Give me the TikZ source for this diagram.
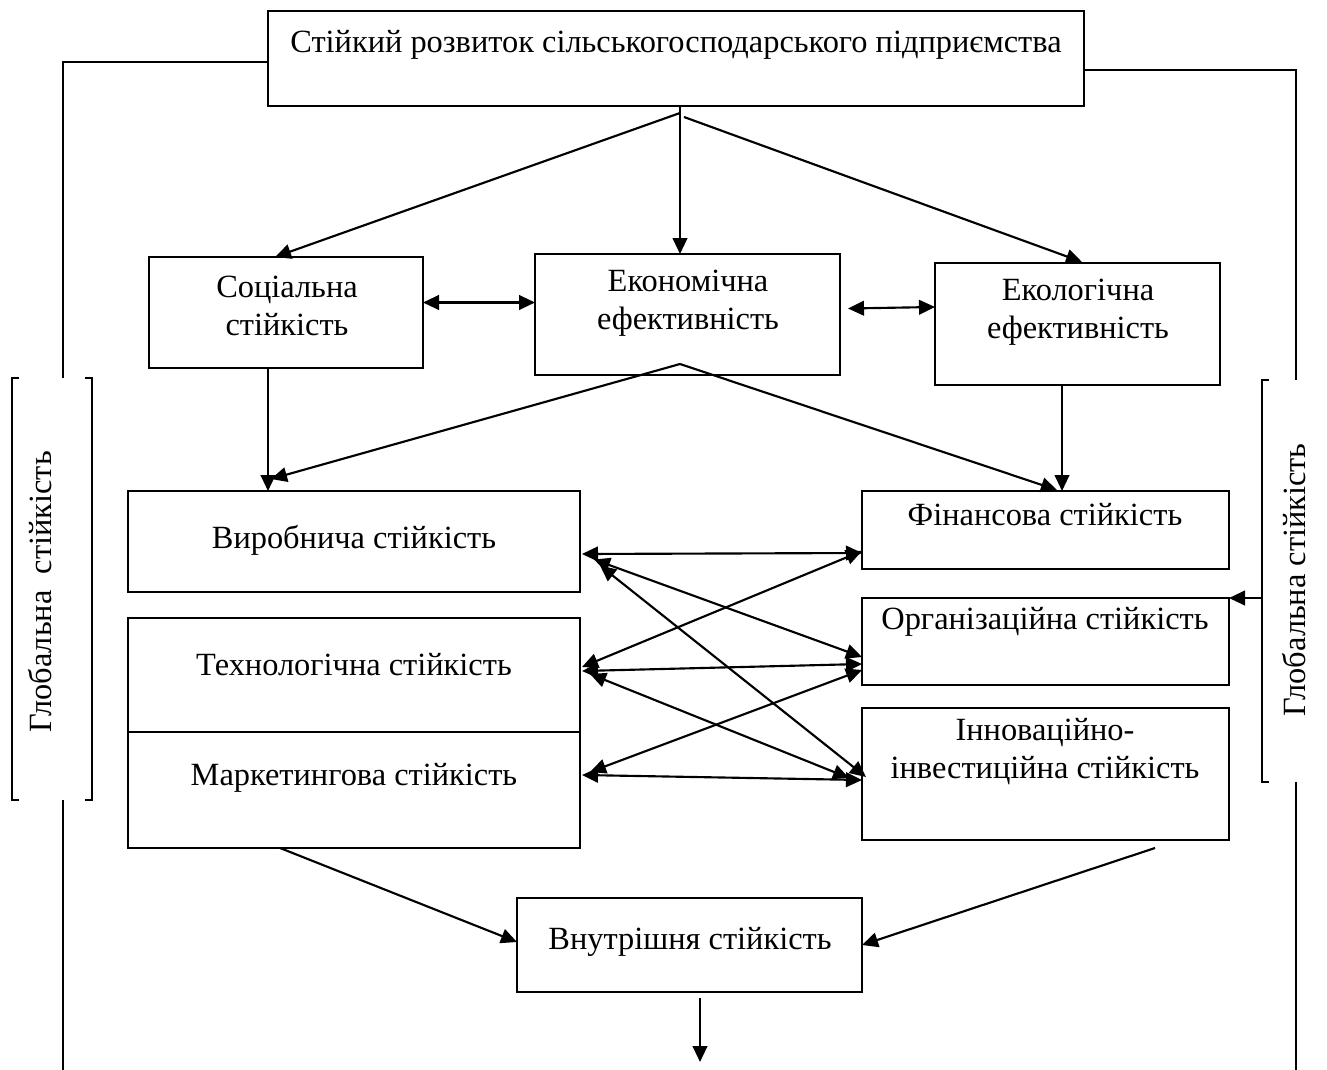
\documentclass[tikz,border=0pt]{standalone}
\usepackage{fontspec}
\setmainfont{Liberation Serif}
\usetikzlibrary{arrows.meta,calc,fit}
\begin{document}
\begin{tikzpicture}[x=0.75pt,y=-0.75pt,
  box/.style={draw,line width=1.7pt,inner sep=0pt,outer sep=0pt},
  txt/.style={inner sep=0pt,align=center,font=\fontsize{24.3}{28.5}\selectfont},
  ln/.style={line width=1.6pt},
  arr/.style={ln,-{Triangle[length=12pt,width=11pt]}},
  darr/.style={ln,{Triangle[length=12pt,width=11pt]}-{Triangle[length=12pt,width=11pt]}}
]
\useasboundingbox (0,0) rectangle (1327,1070);
\fill[white] (0,0) rectangle (1327,1070);

% boxes
\node[box,fit={(268,11) (1084,106)}] (top) {};
\node[box,fit={(149,257) (423,368)}] (soc) {};
\node[box,fit={(535,254) (840,375)}] (eco) {};
\node[box,fit={(935,263) (1220,385)}] (ecl) {};
\node[box,fit={(128,491) (580,592)}] (vyr) {};
\node[box,fit={(128,618) (580,732)}] (tech) {};
\node[box,fit={(128,732) (580,848)}] (mark) {};
\node[box,fit={(862,491) (1229,569)}] (fin) {};
\node[box,fit={(862,598) (1229,685)}] (org) {};
\node[box,fit={(862,708) (1229,840)}] (inn) {};
\node[box,fit={(517,898) (862,992)}] (vnu) {};
\node[inner sep=0pt,outer sep=0pt,fit={(12,378) (92,800)}] (glL) {};
\node[inner sep=0pt,outer sep=0pt,fit={(1262,380) (1340,782)}] (glR) {};

% bracket sides of the global boxes
\draw[ln] ([xshift=5pt]glL.north west) -- (glL.north west) -- (glL.south west) -- ([xshift=5pt]glL.south west);
\draw[ln] ([xshift=-5pt]glL.north east) -- (glL.north east) -- (glL.south east) -- ([xshift=-5pt]glL.south east);
\draw[ln] ([xshift=5pt]glR.north west) -- (glR.north west) -- (glR.south west) -- ([xshift=5pt]glR.south west);

% texts
\node[txt] (toptxt) at (676,45) {Стійкий розвиток сільськогосподарського підприємства};
\node[txt] (soctxt) at (287,306) {Соціальна\\стійкість};
\node[txt] (ecotxt) at (688,303) {Економічна\\ефективність};
\node[txt] (ecltxt) at (1078,312) {Екологічна\\ефективність};
\node[txt] (vyrtxt) at (354,540) {Виробнича стійкість};
\node[txt] (techtxt) at (354,665) {Технологічна стійкість};
\node[txt] (marktxt) at (354,778) {Маркетингова стійкість};
\node[txt] (fintxt) at (1045,515) {Фінансова стійкість};
\node[txt] (orgtxt) at (1045,622) {Організаційна стійкість};
\node[txt] (inntxt) at (1045,752) {Інноваційно-\\інвестиційна стійкість};
\node[txt] (vnutxt) at (690,942) {Внутрішня стійкість};
\node[txt,rotate=90] (glLtxt) at (40,592) {Глобальна\ \ стійкість};
\node[txt,rotate=90] (glRtxt) at (1294,580) {Глобальна стійкість};

% connectors from the top box
\draw[arr] ($(top.south)+(4,7)$) -- ($(soc.north)+(-11,0)$);
\draw[arr] ($(top.south)+(4,0)$) -- ($(eco.north)+(-7.5,0)$);
\draw[arr] ($(top.south)+(8,11)$) -- ($(ecl.north)+(4.5,-1)$);
\draw[ln] (top.west |- 0,62) -- (63,62) -- (glL.north -| 63,0);
\draw[ln] (top.east |- 0,70) -- (1296,70) -- (glR.north -| 1296,0);
\draw[ln] (glL.south -| 63,0) -- (63,1070);
\draw[ln] (glR.south -| 1296,0) -- (1296,1070);
\draw[arr] (glR.west |- org.north) -- (org.north east);

% second level
\draw[darr] ($(soc.east)+(0,-10)$) -- ($(eco.west)+(0,-12)$);
\draw[darr] ($(eco.east)+(8,-6)$) -- ($(ecl.west)+(0,-17)$);
\draw[arr] ($(soc.south)+(-18,0)$) -- ($(vyr.north)+(-86,0)$);
\draw[arr] ($(eco.south)+(-7.5,-11)$) -- ($(vyr.north)+(-83,-12)$);
\draw[arr] ($(eco.south)+(-7.5,-11)$) -- ($(fin.north)+(11.5,-1)$);
\draw[arr] ($(ecl.south)+(-15.5,0)$) -- ($(fin.north)+(16.5,0)$);

% middle cross links
\draw[darr] ($(vyr.east)+(2,12.5)$) -- ($(fin.west)+(0,23)$);
\draw[darr] ($(vyr.east)+(14,18)$) -- ($(org.west)+(0,15.5)$);
\draw[darr] ($(vyr.east)+(20,24)$) -- ($(inn.west)+(4,3)$);
\draw[darr] ($(tech.east)+(2,-8)$) -- ($(fin.west)+(0,21)$);
\draw[darr] ($(tech.east)+(2,-4)$) -- ($(org.west)+(0,22.5)$);
\draw[darr] ($(tech.east)+(10,-1)$) -- ($(inn.west)+(-13,4)$);
\draw[darr] ($(mark.east)+(10,-18)$) -- ($(org.west)+(0,28.5)$);
\draw[darr] ($(mark.east)+(2,-15)$) -- ($(inn.west)+(0,6)$);

% to the internal box
\draw[arr] ($(mark.south)+(-74,0)$) -- ($(vnu.west)+(0,-3)$);
\draw[arr] ($(inn.south)+(109.5,8)$) -- ($(vnu.east)+(0,0)$);
\coordinate (vnuout) at (700,1062);
\draw[arr] ($(vnu.south)+(10.5,6)$) -- (vnuout);
\end{tikzpicture}
\end{document}
